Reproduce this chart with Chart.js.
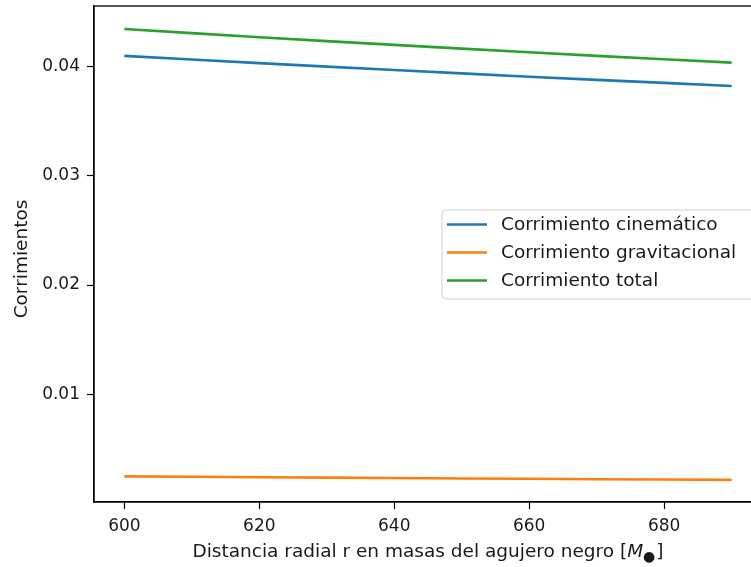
<!DOCTYPE html>
<html>
<head>
<meta charset="utf-8">
<script src="https://cdn.jsdelivr.net/npm/chart.js@4/dist/chart.umd.min.js"></script>
<style>
  html, body { margin: 0; padding: 0; background: #fff; overflow: hidden; }
  #wrap { width: 751px; height: 567px; overflow: hidden; position: relative; }
  canvas { display: block; }
</style>
</head>
<body>
<div id="wrap"><canvas id="c" width="780" height="567"></canvas></div>
<script>
// ---- data ----
const radii = [600, 610, 620, 630, 640, 650, 660, 670, 680, 690];
const kinematicShift = [0.04101, 0.04067, 0.04034, 0.04002, 0.03971, 0.03940, 0.03910, 0.03881, 0.03853, 0.03825];
const gravitationalShift = [0.00246, 0.00242, 0.00238, 0.00234, 0.00231, 0.00227, 0.00224, 0.00220, 0.00217, 0.00214];
const totalShift = [0.04347, 0.04309, 0.04272, 0.04236, 0.04202, 0.04167, 0.04134, 0.04101, 0.04070, 0.04039];
const seriesLabels = ['Corrimiento cinemático', 'Corrimiento gravitacional', 'Corrimiento total'];
const xTicks = [600, 620, 640, 660, 680];
const yTicks = [0.01, 0.02, 0.03, 0.04];
const xTitleParts = ['Distancia radial r en masas del agujero negro [', 'M', '●', ']'];
const yTitle = 'Corrimientos';

const FONT = '"DejaVu Sans", sans-serif';
const FS = 18.5;      // titles / legend
const TFS = 17;       // tick labels
const TXT = '#1a1a1a';
const colors = ['#1f77b4', '#ff7f0e', '#2ca02c'];

function pts(vals) { return radii.map((r, i) => ({ x: r, y: vals[i] })); }

const frame = {
  id: 'frame',
  afterDraw(chart) {
    const a = chart.chartArea, ctx = chart.ctx;
    ctx.save();
    ctx.strokeStyle = '#000';
    ctx.lineWidth = 1.3;
    ctx.strokeRect(a.left, a.top, a.right - a.left, a.bottom - a.top);
    ctx.restore();
  }
};

const xTitlePlugin = {
  id: 'xTitle',
  afterDraw(chart) {
    const a = chart.chartArea, ctx = chart.ctx;
    ctx.save();
    ctx.fillStyle = TXT;
    ctx.textBaseline = 'alphabetic';
    const normal = FS + 'px ' + FONT;
    const ital = 'oblique ' + FS + 'px ' + FONT;
    const small = Math.round(FS * 0.75) + 'px ' + FONT;
    ctx.font = normal; const w0 = ctx.measureText(xTitleParts[0]).width;
    ctx.font = ital; const w1 = ctx.measureText(xTitleParts[1]).width;
    ctx.font = small; const w2 = ctx.measureText(xTitleParts[2]).width;
    ctx.font = normal; const w3 = ctx.measureText(xTitleParts[3]).width;
    const total = w0 + w1 + w2 + w3 + 1;
    let x = (a.left + a.right) / 2 - total / 2;
    const y = 557;
    ctx.font = normal; ctx.fillText(xTitleParts[0], x, y); x += w0;
    ctx.font = ital; ctx.fillText(xTitleParts[1], x, y); x += w1;
    ctx.font = small; ctx.fillText(xTitleParts[2], x, y + 4); x += w2 + 1;
    ctx.font = normal; ctx.fillText(xTitleParts[3], x, y);
    ctx.restore();
  }
};

const legendPlugin = {
  id: 'boxLegend',
  afterDraw(chart) {
    const ctx = chart.ctx;
    const left = 442, top = 210, w = 320, h = 89, r = 4;
    ctx.save();
    ctx.beginPath();
    ctx.moveTo(left + r, top);
    ctx.lineTo(left + w - r, top);
    ctx.arcTo(left + w, top, left + w, top + r, r);
    ctx.lineTo(left + w, top + h - r);
    ctx.arcTo(left + w, top + h, left + w - r, top + h, r);
    ctx.lineTo(left + r, top + h);
    ctx.arcTo(left, top + h, left, top + h - r, r);
    ctx.lineTo(left, top + r);
    ctx.arcTo(left, top, left + r, top, r);
    ctx.closePath();
    ctx.fillStyle = 'rgba(255,255,255,0.8)';
    ctx.fill();
    ctx.strokeStyle = '#d0d0d0';
    ctx.lineWidth = 1;
    ctx.stroke();
    ctx.font = FS + 'px ' + FONT;
    ctx.textBaseline = 'middle';
    chart.data.datasets.forEach((ds, i) => {
      const y = 224.5 + i * 28;
      ctx.strokeStyle = ds.borderColor;
      ctx.lineWidth = 2.6;
      ctx.beginPath();
      ctx.moveTo(447, y);
      ctx.lineTo(487, y);
      ctx.stroke();
      ctx.fillStyle = TXT;
      ctx.fillText(ds.label, 501, y + 1);
    });
    ctx.restore();
  }
};

const yTitlePlugin = {
  id: 'yTitle',
  afterDraw(chart) {
    const ctx = chart.ctx;
    ctx.save();
    ctx.translate(27, 259);
    ctx.rotate(-Math.PI / 2);
    ctx.font = FS + 'px ' + FONT;
    ctx.fillStyle = TXT;
    ctx.textAlign = 'center';
    ctx.textBaseline = 'alphabetic';
    ctx.fillText(yTitle, 0, 0);
    ctx.restore();
  }
};

new Chart(document.getElementById('c'), {
  type: 'line',
  data: {
    datasets: [
      { label: seriesLabels[0], data: pts(kinematicShift), borderColor: colors[0] },
      { label: seriesLabels[1], data: pts(gravitationalShift), borderColor: colors[1] },
      { label: seriesLabels[2], data: pts(totalShift), borderColor: colors[2] }
    ].map(d => Object.assign(d, { borderWidth: 2.6, pointRadius: 0, fill: false, tension: 0 }))
  },
  options: {
    responsive: false,
    animation: false,
    devicePixelRatio: 1,
    layout: { padding: { top: 6, right: 18, left: 0, bottom: 0 } },
    plugins: { legend: { display: false }, tooltip: { enabled: false }, title: { display: false } },
    scales: {
      x: {
        type: 'linear',
        min: 595.5, max: 694.5,
        afterFit(s) { s.height = 65; s.paddingLeft = 0; s.paddingRight = 0; },
        afterBuildTicks(s) { s.ticks = xTicks.map(v => ({ value: v })); },
        grid: { display: true, drawOnChartArea: false, drawTicks: true, tickLength: 7, color: '#000', tickWidth: 1.2 },
        border: { display: true, color: '#000', width: 1.3 },
        ticks: { color: TXT, font: { family: FONT, size: TFS }, padding: 7, maxRotation: 0, autoSkip: false,
                 callback: v => String(v) }
      },
      y: {
        type: 'linear',
        min: 0.00011, max: 0.04558,
        afterFit(s) { s.width = 94; s.paddingTop = 0; s.paddingBottom = 0; },
        afterBuildTicks(s) { s.ticks = yTicks.map(v => ({ value: v })); },
        grid: { display: true, drawOnChartArea: false, drawTicks: true, tickLength: 7, color: '#000', tickWidth: 1.2 },
        border: { display: true, color: '#000', width: 1.3 },
        ticks: { color: TXT, font: { family: FONT, size: TFS }, padding: 7,
                 callback: v => v.toFixed(2) }
      }
    }
  },
  plugins: [frame, xTitlePlugin, yTitlePlugin, legendPlugin]
});
</script>
</body>
</html>
